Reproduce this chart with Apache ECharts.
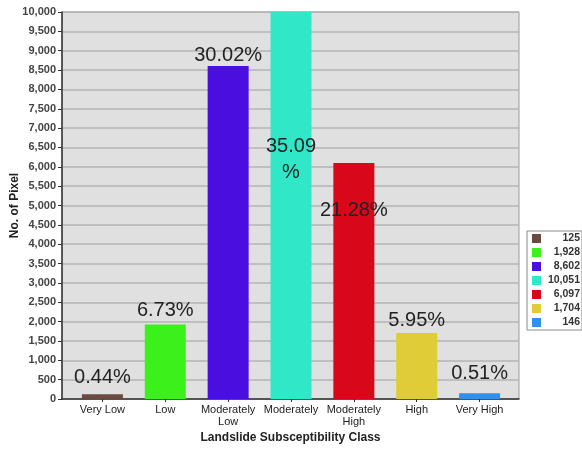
<!DOCTYPE html>
<html>
<head>
<meta charset="utf-8">
<script src="https://cdn.jsdelivr.net/npm/echarts@6/dist/echarts.min.js"></script>
<style>
  html, body { margin: 0; padding: 0; background: #ffffff; }
  #chart { width: 582px; height: 449px; }
</style>
</head>
<body>
<div id="chart"></div>
<script>
// Landslide susceptibility classes and their pixel counts
const classes = ['Very Low', 'Low', 'Moderately\nLow', 'Moderately', 'Moderately\nHigh', 'High', 'Very High'];
const pixelCounts = [125, 1928, 8602, 10051, 6097, 1704, 146];
const shareLabels = ['0.44%', '6.73%', '30.02%', '35.09\n%', '21.28%', '5.95%', '0.51%'];
const classColors = ['#6b4a40', '#3cf01c', '#4a0ede', '#30e8c8', '#d8081a', '#e0cc36', '#3090f0'];
const yTicks = { min: 0, max: 10000, interval: 500 };

const FONT = '"Liberation Sans", Arial, sans-serif';
const fmt = v => Number(v).toLocaleString('en-US');

// label placement per class: most sit above the bar, two sit inside it
const labelStyle = [
  { position: 'top', distance: 4 },
  { position: 'top', distance: 1 },
  { position: 'top', distance: -2 },
  { position: 'insideTop', offset: [0, 116] },
  { position: 'insideTop', offset: [0, 29] },
  { position: 'top', distance: 0 },
  { position: 'top', distance: 7 }
];

const series = pixelCounts.map((count, i) => ({
  name: fmt(count),
  type: 'bar',
  xAxisIndex: 1,
  yAxisIndex: 1,
  barWidth: 41,
  barGap: '-100%',
  itemStyle: { color: classColors[i] },
  label: Object.assign({
    show: true,
    formatter: () => shareLabels[i],
    fontFamily: FONT,
    fontSize: 20,
    color: '#222',
    lineHeight: 26
  }, labelStyle[i]),
  data: classes.map((_, j) => (j === i ? count : '-'))
}));

const chart = echarts.init(document.getElementById('chart'), null, { renderer: 'canvas' });
chart.setOption({
  animation: false,
  backgroundColor: '#ffffff',
  textStyle: { fontFamily: FONT },
  grid: [
    { left: 62, right: 63, top: 12, bottom: 50, outerBoundsMode: 'none', show: true, backgroundColor: '#e0e0e0', borderColor: '#9a9a9a', borderWidth: 1 },
    { left: 71, right: 71, top: 12, bottom: 50, outerBoundsMode: 'none' }
  ],
  legend: {
    orient: 'vertical',
    left: 527,
    top: 231,
    padding: [2, 2, 2, 5],
    itemGap: 3,
    itemWidth: 9,
    itemHeight: 9,
    itemTextGap: 2,
    icon: 'rect',
    backgroundColor: '#ffffff',
    borderColor: '#8a8a8a',
    borderWidth: 1,
    formatter: name => '{v|' + name + '}',
    textStyle: {
      rich: {
        v: { fontFamily: FONT, fontSize: 10.5, fontWeight: 'bold', color: '#333', width: 34, align: 'right', lineHeight: 12 }
      }
    },
    data: series.map(s => s.name)
  },
  xAxis: [
    {
      type: 'category', gridIndex: 0, data: classes,
      axisLine: { lineStyle: { color: '#333', width: 1.5 } },
      axisTick: { show: false }, axisLabel: { show: false }, splitLine: { show: false },
      name: 'Landslide Subsceptibility Class', nameLocation: 'middle', nameGap: 33,
      nameTextStyle: { fontFamily: FONT, fontSize: 12, fontWeight: 'bold', color: '#222' }
    },
    {
      type: 'category', gridIndex: 1, data: classes,
      axisLine: { show: false },
      axisTick: { show: true, alignWithLabel: true, length: 3, lineStyle: { color: '#333' } },
      axisLabel: { fontFamily: FONT, fontSize: 11, color: '#222', margin: 5, lineHeight: 12, interval: 0 }
    }
  ],
  yAxis: [
    {
      type: 'value', gridIndex: 0, min: yTicks.min, max: yTicks.max, interval: yTicks.interval,
      axisLine: { show: true, lineStyle: { color: '#333', width: 1.5 } },
      axisTick: { show: true, length: 4, lineStyle: { color: '#333' } },
      axisLabel: { fontFamily: FONT, fontSize: 11, fontWeight: 'bold', color: '#444', margin: 6, formatter: fmt },
      splitLine: { show: true, lineStyle: { color: '#b4b4b4', width: 1.5 } },
      name: 'No. of Pixel', nameLocation: 'middle', nameGap: 41, nameMoveOverlap: false,
      nameTextStyle: { fontFamily: FONT, fontSize: 12, fontWeight: 'bold', color: '#222' }
    },
    {
      type: 'value', gridIndex: 1, min: yTicks.min, max: yTicks.max, interval: yTicks.interval,
      show: false
    }
  ],
  series: series
});
</script>
</body>
</html>
